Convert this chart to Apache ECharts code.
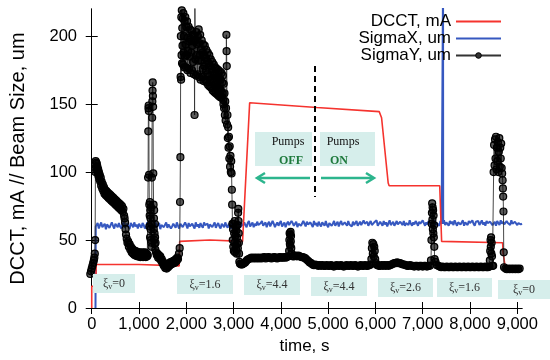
<!DOCTYPE html>
<html>
<head>
<meta charset="utf-8">
<script src="https://cdn.jsdelivr.net/npm/echarts@6.0.0/dist/echarts.min.js"></script>
<style>
  html, body { margin: 0; padding: 0; background: #fff; }
  #chart { width: 550px; height: 360px; }
</style>
</head>
<body>
<div id="chart"></div>
<script>
  // tick values
  const xTicks = [0, 1000, 2000, 3000, 4000, 5000, 6000, 7000, 8000, 9000]
  const yTicks = [0, 50, 100, 150, 200]

  // beam current, [time s, mA]
  const dcct = [[0, 0], [0, 16], [85, 16], [95, 32], [1000, 32], [1850, 31], [1860, 49], [2500, 50], [3190, 49],
    [3230, 49], [3340, 151], [4760, 147.5], [6080, 144.5], [6130, 140], [6270, 92], [6290, 90], [7360, 90],
    [7400, 49], [8690, 48], [8700, 41], [8740, 31]]

  // horizontal size, one value every 25 s starting at t=100
  const sigmaXT0 = 100
  const sigmaXStep = 25
  const sigmaXStart = [[80, 0], [85, 60]]
  const sigmaXSpike = [[7428, 62], [7430, 240], [7433, 62]]
  const sigmaX = [
    60, 62.5, 58.5, 61, 63, 59.5, 60.5, 62, 58, 61.5, 62.5, 59, 60, 63, 60.5, 58.5, 62, 61, 59.5, 62.5,
    60, 58.5, 61.5, 63, 59, 60.5, 62, 60, 58, 62.5, 61, 59.5, 63, 60, 61.5, 58.5, 62, 60.5, 59, 62.5,
    61, 58.5, 60, 63, 61.5, 59, 62, 60.5, 58.5, 61, 63, 59.5, 60.5, 62.5, 58, 61, 62, 59.5, 60.5, 63,
    59, 61.5, 62.5, 58.5, 60, 62, 61, 59, 63, 60.5, 58.5, 62, 61.5, 59.5, 60, 63, 61, 58.5, 62.5, 60,
    59.5, 62, 61, 58.5, 63, 60, 61.5, 59, 62.5, 60.5, 59, 63, 61, 60, 62, 58.5, 61.5, 62.5, 59.5, 60.5,
    63, 59, 61, 62.5, 60, 58.5, 62, 61.5, 59.5, 63, 60.5, 59, 62, 61, 58.5, 62.5, 60, 61.5, 63, 59.5,
    61, 63.5, 59.5, 62, 60.5, 63, 61, 59.5, 62.5, 64, 60, 61.5, 63, 59.5, 62, 60.5, 63.5, 61, 60, 62.5,
    64, 60.5, 61.5, 63, 59.5, 62, 63.5, 60, 61, 64, 62, 59.5, 61.5, 63, 60.5, 62.5, 64, 60, 61.5, 63,
    59.5, 62, 63.5, 61, 60, 64, 62.5, 60.5, 61.5, 63.5, 59.5, 62, 63, 60.5, 61, 64, 62, 60, 63.5, 61.5,
    60.5, 63, 62, 59.5, 64, 61, 62.5, 60, 63.5, 61.5, 60, 63, 62, 60.5, 64, 61, 59.5, 62.5, 63.5, 60.5,
    62, 64, 60.5, 61.5, 63.5, 60, 62.5, 64, 61, 60, 63, 62, 60.5, 64, 61.5, 62.5, 60, 63.5, 61, 62,
    64, 60.5, 62, 63.5, 61, 60, 64.5, 62, 61, 63.5, 60.5, 62.5, 64, 61, 60.5, 63, 62, 64.5, 60.5, 61.5,
    63.5, 62, 60.5, 64, 61.5, 63, 60, 62.5, 64.5, 61, 62, 63.5, 60.5, 62, 64, 61.5, 60.5, 63.5, 62.5, 61,
    64, 60.5, 62.5, 63.5, 61, 64.5, 62, 60.5, 63, 61.5, 64, 62.5, 60.5, 63.5, 62, 61, 64.5, 62.5, 60.5, 63,
    61.5, 64, 62.5, 60.5, 63.5, 62, 64.5, 61, 62.5, 63.5, 60.5, 64, 62, 61.5, 64.5, 61, 63, 62.5, 60.5, 64,
    62, 63.5, 61, 64.5, 62.5, 60.5, 63, 64, 61.5, 62.5, 64.5, 60.5, 63, 62, 61, 64, 62.5, 61.5, 64.5, 62,
    60.5, 63.5, 62.5, 64, 61, 62, 64.5, 61.5, 63, 60.5, 64, 62.5, 61.5, 63.5, 64.5, 61, 62, 63.5, 60.5, 64,
    62.5, 61, 64.5, 62, 63.5, 61.5, 60.5, 64, 62.5, 63, 61, 64.5, 62, 61.5, 63.5, 64, 61, 62.5, 63.5, 61.5,
    62]

  // vertical size, [time s, um]
  const sigmaYXi0 = [[-30, 25], [-15, 27], [0, 29], [15, 31], [30, 33], [45, 35], [55, 37], [65, 40], [72, 50],
    [78, 100], [84, 108], [90, 104], [96, 107], [102, 103], [108, 106], [114, 101], [120, 104], [128, 99],
    [136, 102], [144, 97], [152, 100], [160, 95], [170, 98], [180, 93], [190, 96], [200, 90], [210, 93],
    [222, 88], [234, 91], [246, 86], [258, 89], [270, 84], [284, 87], [298, 83], [312, 86], [326, 82],
    [340, 85], [355, 81], [370, 84], [385, 80], [400, 83], [415, 79], [430, 82], [445, 78], [460, 81],
    [475, 77], [490, 80], [505, 76], [520, 79], [535, 75], [550, 78], [565, 74], [580, 77], [595, 73],
    [610, 76], [625, 72], [640, 75], [655, 71], [670, 73], [685, 68], [695, 66], [705, 63], [715, 58],
    [725, 54], [740, 51], [755, 48], [770, 49], [785, 45], [800, 47], [815, 43], [830, 45], [845, 41],
    [860, 43.5], [875, 40], [890, 42.5], [905, 39], [920, 42], [935, 38.5], [950, 41.5], [965, 38], [980, 41],
    [995, 38], [1010, 41], [1025, 37.5], [1040, 40.5], [1055, 38], [1070, 41], [1085, 37.5], [1100, 40.5],
    [1115, 38], [1130, 41], [1145, 37.5], [1160, 40], [1175, 38], [1185, 39],
    [1192, 96], [1196, 130], [1200, 147], [1204, 149], [1208, 145], [1212, 98], [1218, 76], [1222, 60],
    [1226, 68], [1230, 78], [1234, 52], [1238, 72], [1242, 66], [1246, 58], [1250, 50], [1254, 74], [1258, 48],
    [1262, 62], [1266, 45], [1272, 96], [1278, 140], [1282, 152], [1286, 160], [1290, 166], [1294, 156],
    [1298, 148], [1302, 99], [1308, 76], [1312, 58], [1316, 66], [1320, 72], [1324, 50], [1328, 55],
    [1332, 47], [1336, 62], [1340, 52], [1345, 43], [1350, 48], [1360, 41], [1375, 39], [1390, 40],
    [1405, 37], [1420, 39], [1435, 36.5], [1450, 38], [1465, 35], [1480, 36], [1495, 33], [1510, 34],
    [1525, 31], [1540, 32], [1555, 29.5], [1570, 31], [1585, 29], [1600, 31], [1615, 30], [1630, 32.5],
    [1645, 31], [1660, 33.5], [1675, 32], [1690, 34], [1705, 32.5], [1720, 34.5], [1735, 33], [1750, 35],
    [1765, 33.5], [1780, 36], [1795, 34.5], [1810, 37], [1825, 36], [1845, 40], [1860, 44], [1868, 78]]

  const sigmaYXi16 = [[1875, 111], [1880, 170], [1885, 200], [1890, 168], [1895, 214], [1900, 186], [1905, 219],
    [1910, 180], [1915, 206], [1920, 193], [1925, 213], [1930, 179], [1937, 217], [1944, 188], [1951, 200],
    [1958, 177], [1965, 211], [1972, 185], [1979, 214], [1986, 194], [1993, 177], [2000, 207], [2008, 186],
    [2016, 211], [2024, 175], [2032, 199], [2040, 189], [2048, 207], [2056, 176], [2064, 196], [2072, 185],
    [2080, 205], [2088, 173], [2096, 198], [2104, 188], [2112, 204], [2120, 175], [2128, 193], [2136, 201],
    [2144, 181], [2152, 196], [2160, 172], [2168, 200], [2175, 142], [2182, 221], [2190, 183], [2198, 197],
    [2206, 171], [2214, 203], [2222, 186], [2230, 194], [2238, 172], [2246, 200], [2254, 182], [2262, 205],
    [2270, 170], [2278, 195], [2286, 186], [2294, 201], [2302, 168], [2310, 190], [2318, 182], [2326, 197],
    [2334, 170], [2342, 188], [2350, 176], [2358, 194], [2366, 167], [2374, 186], [2382, 178], [2390, 193],
    [2398, 168], [2406, 184], [2414, 175], [2422, 190], [2430, 166], [2438, 182], [2446, 172], [2454, 188],
    [2462, 164], [2470, 180], [2478, 170], [2486, 186], [2494, 163], [2502, 178], [2510, 168], [2518, 183],
    [2526, 162], [2534, 176], [2542, 168], [2550, 181], [2558, 160], [2566, 174], [2574, 166], [2582, 179],
    [2590, 159], [2598, 172], [2606, 164], [2614, 177], [2622, 158], [2630, 171], [2638, 163], [2646, 176],
    [2654, 157], [2662, 170], [2670, 162], [2678, 175], [2686, 156], [2694, 169], [2702, 161], [2710, 174],
    [2718, 155], [2726, 168], [2734, 160], [2742, 173], [2750, 155], [2758, 166], [2766, 158], [2774, 171],
    [2780, 153], [2786, 150], [2792, 165], [2800, 147], [2808, 158], [2816, 142], [2824, 152], [2832, 138],
    [2840, 147], [2848, 201], [2852, 189], [2856, 178], [2862, 135], [2870, 142], [2878, 125], [2886, 133],
    [2894, 118], [2902, 126], [2910, 110], [2918, 119], [2926, 104], [2934, 112], [2942, 100], [2950, 108],
    [2958, 99], [2964, 87], [2970, 76], [2976, 62], [2982, 50], [2988, 58], [2994, 45], [3000, 62], [3006, 42],
    [3012, 55], [3018, 48], [3024, 64], [3030, 41], [3036, 53], [3042, 46], [3048, 60], [3054, 43], [3060, 57],
    [3066, 40], [3072, 52], [3078, 47], [3084, 61], [3090, 44], [3096, 70], [3100, 73], [3104, 64], [3108, 55],
    [3112, 48], [3116, 40], [3122, 34], [3135, 32.5], [3160, 32], [3180, 32], [3200, 32.5], [3220, 33],
    [3245, 33.5], [3270, 34.5], [3290, 35.5]]

  const sigmaYRest = [[3320, 36], [3350, 36.5], [3380, 37], [3410, 36.5], [3440, 37], [3470, 36.5], [3500, 37],
    [3530, 36.5], [3560, 37], [3590, 36.5], [3620, 37], [3650, 37.5], [3680, 36.5], [3710, 37], [3740, 37.5],
    [3770, 37], [3800, 36.5], [3830, 37], [3860, 37.5], [3890, 37], [3920, 36.5], [3950, 37], [3980, 37.5],
    [4010, 37], [4040, 37], [4070, 37.5], [4100, 37], [4130, 37.5], [4160, 38], [4175, 42], [4180, 50],
    [4185, 55], [4190, 47], [4195, 54], [4200, 46], [4205, 56], [4210, 49], [4215, 53], [4220, 44], [4228, 40],
    [4250, 38], [4280, 38], [4310, 38.5], [4340, 38], [4370, 38.5], [4400, 38], [4430, 37.5], [4460, 37.5],
    [4490, 37], [4520, 36.5], [4550, 35.5], [4580, 34.5], [4610, 33.5], [4640, 33], [4670, 32], [4700, 31.5],
    [4730, 32], [4760, 31.5], [4790, 31], [4820, 31.5], [4850, 31], [4880, 31.5], [4910, 31], [4940, 31],
    [4970, 31.5], [5000, 31], [5030, 31], [5060, 31.5], [5090, 31], [5120, 30.5], [5150, 31], [5180, 31.5],
    [5210, 31], [5240, 31], [5270, 31.5], [5300, 31], [5330, 30.5], [5360, 31], [5390, 31.5], [5420, 31],
    [5450, 31], [5480, 31.5], [5510, 31], [5540, 31], [5570, 31.5], [5600, 31], [5630, 30.5], [5660, 31],
    [5690, 31.5], [5720, 31], [5750, 31], [5780, 31.5], [5810, 31], [5840, 31], [5870, 31.5], [5900, 32],
    [5915, 36], [5925, 44], [5935, 48], [5945, 40], [5955, 47], [5965, 38], [5975, 45], [5985, 42], [5995, 36],
    [6010, 33], [6040, 31.5], [6070, 31], [6100, 31], [6130, 31.5], [6160, 31], [6190, 31.5], [6220, 31],
    [6250, 31.5], [6280, 31], [6310, 31.5], [6340, 32], [6370, 32.5], [6400, 33], [6430, 33], [6460, 33.5],
    [6490, 33], [6520, 33], [6550, 32.5], [6580, 32], [6610, 32], [6640, 31.5], [6670, 31], [6700, 31],
    [6730, 31.5], [6760, 31], [6790, 31], [6820, 30.5], [6850, 31], [6880, 31], [6910, 30.5], [6940, 31],
    [6970, 31], [7000, 30.5], [7030, 31], [7060, 31], [7090, 30.5], [7120, 31], [7150, 31], [7175, 35],
    [7185, 50], [7190, 62], [7195, 70], [7200, 77], [7205, 65], [7210, 74], [7215, 58], [7220, 72], [7225, 55],
    [7230, 68], [7235, 52], [7240, 61], [7245, 45], [7252, 36], [7270, 34], [7300, 31.5], [7330, 31],
    [7360, 30.5], [7390, 30], [7420, 30.5], [7450, 30], [7480, 30], [7510, 30.5], [7540, 30], [7570, 30],
    [7600, 30.5], [7630, 30], [7660, 30], [7690, 30.5], [7720, 30], [7750, 30], [7780, 30.5], [7810, 30],
    [7840, 30], [7870, 30.5], [7900, 30], [7930, 30], [7960, 30.5], [7990, 30], [8020, 30], [8050, 30.5],
    [8080, 30], [8110, 30], [8140, 30.5], [8170, 30], [8200, 30], [8230, 30.5], [8260, 30], [8290, 30],
    [8320, 30.5], [8350, 30], [8380, 30], [8410, 30.5], [8420, 35], [8428, 42], [8435, 50], [8440, 45],
    [8446, 52], [8452, 40], [8458, 48], [8465, 38], [8475, 31], [8490, 31], [8500, 100], [8510, 120],
    [8520, 105], [8530, 124], [8540, 110], [8550, 126], [8560, 102], [8570, 118], [8580, 108], [8590, 122],
    [8600, 100], [8610, 115], [8620, 125], [8630, 104], [8640, 118], [8650, 110], [8660, 121], [8670, 103],
    [8680, 99], [8690, 94], [8696, 88], [8702, 82], [8708, 71], [8714, 41], [8720, 30], [8750, 29],
    [8780, 28.5], [8810, 29], [8840, 28.5], [8870, 29], [8900, 28.5], [8930, 29], [8960, 28.5], [8990, 29],
    [9020, 28.5], [9050, 29]]

  // chromaticity labels under each stage
  const xiLabels = ['0', '1.6', '4.4', '4.4', '2.6', '1.6', '0']

  const sigmaXData = sigmaXStart.slice()
  sigmaX.forEach((v, i) => sigmaXData.push([sigmaXT0 + i * sigmaXStep, v]))
  sigmaXData.push(...sigmaXSpike)
  sigmaXData.sort((a, b) => a[0] - b[0])

  const sigmaYData = sigmaYXi0.concat(sigmaYXi16, sigmaYRest)

  const sans = 'Liberation Sans, Arial, sans-serif'
  const serif = 'Liberation Serif, Times New Roman, serif'

  // box geometry for the chromaticity labels (pixels)
  const xiBoxes = [
    [93, 274, 42, 19], [177, 275, 56, 19], [244, 275, 56, 20], [311, 277, 56, 19],
    [378, 278, 55, 19], [437, 278, 55, 19], [498, 280, 52, 19]
  ]

  const graphic = []
  xiBoxes.forEach((b, i) => {
    graphic.push({
      type: 'rect', z: 50,
      shape: { x: b[0], y: b[1], width: b[2], height: b[3] },
      style: { fill: '#d6eeeb' }
    })
    graphic.push({
      type: 'text', z: 51,
      x: b[0] + b[2] / 2, y: b[1] + b[3] / 2,
      style: {
        text: '{a|ξ}{b|v}{a|=' + xiLabels[i] + '}',
        align: 'center', verticalAlign: 'middle',
        rich: {
          a: { fontSize: 12, fontFamily: serif, fill: '#333', lineHeight: 14 },
          b: { fontSize: 8, fontFamily: serif, fill: '#333', lineHeight: 14, verticalAlign: 'bottom', padding: [5, 0, 0, 0] }
        }
      }
    })
  })

  // pumps off / on
  graphic.push(
    { type: 'rect', z: 50, shape: { x: 255, y: 132, width: 57, height: 34 }, style: { fill: '#d6eeeb' } },
    { type: 'rect', z: 50, shape: { x: 320, y: 132, width: 55, height: 34 }, style: { fill: '#d6eeeb' } },
    { type: 'text', z: 51, x: 288, y: 142, style: { text: 'Pumps', align: 'center', verticalAlign: 'middle', font: '12px ' + serif, fill: '#111' } },
    { type: 'text', z: 51, x: 291, y: 161, style: { text: 'OFF', align: 'center', verticalAlign: 'middle', font: 'bold 12px ' + serif, fill: '#1e7a3c' } },
    { type: 'text', z: 51, x: 343, y: 142, style: { text: 'Pumps', align: 'center', verticalAlign: 'middle', font: '12px ' + serif, fill: '#111' } },
    { type: 'text', z: 51, x: 339, y: 161, style: { text: 'ON', align: 'center', verticalAlign: 'middle', font: 'bold 12px ' + serif, fill: '#1e7a3c' } },
    { type: 'line', z: 52, shape: { x1: 258, y1: 178, x2: 310, y2: 178 }, style: { stroke: '#2cb58d', lineWidth: 2.5 } },
    { type: 'polyline', z: 52, shape: { points: [[265, 173], [257, 178], [265, 183]] }, style: { stroke: '#2cb58d', lineWidth: 2.5, fill: null } },
    { type: 'line', z: 52, shape: { x1: 321, y1: 178, x2: 373, y2: 178 }, style: { stroke: '#2cb58d', lineWidth: 2.5 } },
    { type: 'polyline', z: 52, shape: { points: [[366, 173], [374, 178], [366, 183]] }, style: { stroke: '#2cb58d', lineWidth: 2.5, fill: null } },
    { type: 'line', z: 53, shape: { x1: 315, y1: 66, x2: 315, y2: 197 }, style: { stroke: '#000', lineWidth: 2, lineDash: [6, 4] } }
  )

  const frameAxis = {
    axisLine: { show: true, lineStyle: { color: '#000', width: 1 } },
    splitLine: { show: false }
  }

  const option = {
    animation: false,
    backgroundColor: '#fff',
    grid: { left: 83, right: 28, top: 9, bottom: 52 },
    legend: {
      data: [
        { name: 'DCCT, mA', itemStyle: { opacity: 0 } },
        { name: 'SigmaX, um', itemStyle: { opacity: 0 } },
        { name: 'SigmaY, um', itemStyle: { color: '#333', borderColor: '#000', borderWidth: 1 } }
      ],
      orient: 'vertical',
      right: 48, top: 13,
      align: 'right',
      padding: 0,
      itemGap: 0,
      itemWidth: 45, itemHeight: 7,
      textStyle: { fontSize: 17, fontFamily: sans, color: '#000', lineHeight: 16 }
    },
    xAxis: [{
      ...frameAxis,
      type: 'value', min: -100, max: 9100, position: 'bottom',
      name: 'time, s', nameLocation: 'middle', nameGap: 30,
      nameTextStyle: { fontSize: 17, fontFamily: sans, color: '#000' },
      axisTick: { inside: true, length: 6, lineStyle: { color: '#000' }, customValues: xTicks },
      axisLabel: { fontSize: 16.5, fontFamily: sans, color: '#000', margin: 8, customValues: xTicks }
    }, {
      ...frameAxis,
      type: 'value', min: -100, max: 9100, position: 'top',
      axisTick: { inside: true, length: 6, lineStyle: { color: '#000' }, customValues: xTicks },
      axisLabel: { show: false }
    }],
    yAxis: [{
      ...frameAxis,
      type: 'value', min: 0, max: 220, position: 'left',
      name: 'DCCT, mA // Beam Size, um', nameLocation: 'middle', nameGap: 59,
      nameTextStyle: { fontSize: 20, fontFamily: sans, color: '#000' },
      axisTick: { inside: true, length: 6, lineStyle: { color: '#000' }, customValues: yTicks },
      axisLabel: { fontSize: 16.5, fontFamily: sans, color: '#000', margin: 10, customValues: yTicks }
    }, {
      ...frameAxis,
      type: 'value', min: 0, max: 220, position: 'right',
      axisTick: { inside: true, length: 6, lineStyle: { color: '#000' }, customValues: yTicks },
      axisLabel: { show: false }
    }],
    series: [{
      name: 'SigmaX, um',
      type: 'line',
      data: sigmaXData,
      symbol: 'none',
      lineStyle: { color: '#3658c0', width: 2 },
      itemStyle: { color: '#3658c0' },
      z: 2
    }, {
      name: 'DCCT, mA',
      type: 'line',
      data: dcct,
      symbol: 'none',
      lineStyle: { color: '#f5332e', width: 1.6 },
      itemStyle: { color: '#f5332e' },
      z: 3
    }, {
      name: 'SigmaY, um',
      type: 'line',
      data: sigmaYData,
      symbol: 'circle',
      symbolSize: 7,
      showAllSymbol: true,
      lineStyle: { color: '#333', width: 0.9 },
      itemStyle: { color: 'rgba(0,0,0,0.65)', borderColor: '#000', borderWidth: 1.2 },
      z: 4
    }],
    graphic: graphic
  }

  const chart = echarts.init(document.getElementById('chart'))
  chart.setOption(option)
</script>
</body>
</html>
